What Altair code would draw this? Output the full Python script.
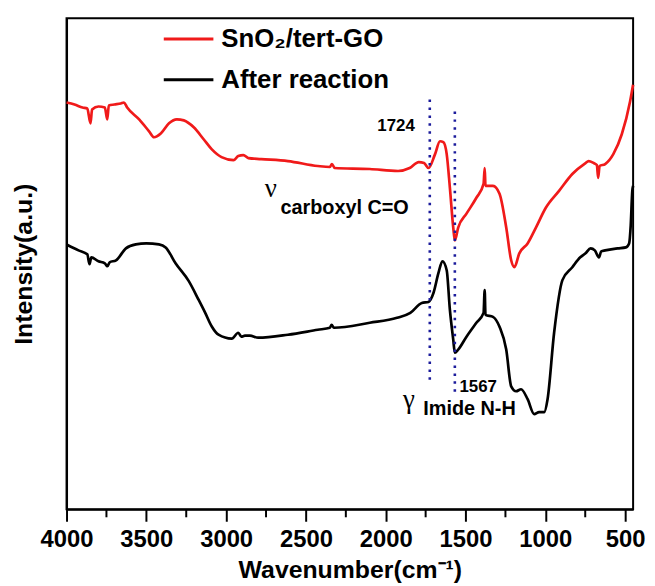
import altair as alt
import pandas as pd

series_names = ["SnO\u2082/tert-GO", "After reaction"]
series_colors = ["#f01a1a", "#000000"]

red_wn = [4000, 3950, 3900, 3870, 3850, 3840, 3800, 3760, 3745, 3735, 3700, 3660, 3640, 3620,
          3545, 3483, 3452, 3408, 3358, 3309, 3265, 3203, 3141, 3091, 3029, 2954, 2924, 2892,
          2861, 2780, 2613, 2426, 2350, 2337, 2320, 2100, 1923, 1850, 1793, 1760, 1732, 1691,
          1660, 1639, 1618, 1598, 1577, 1567, 1546, 1494, 1432, 1387, 1380, 1375, 1328, 1287,
          1245, 1214, 1194, 1163, 1111, 1059, 997, 914, 831, 748, 729, 697, 677, 669, 660, 625,
          574, 521, 469, 450]
red_int = [410, 408, 405, 404, 389, 403, 406, 405, 393, 407, 408, 409, 410, 405,
           393, 381, 375, 379, 389, 393, 392, 385, 373, 363, 355, 352, 356, 357,
           354, 353, 351, 346, 345, 348, 344, 343, 341, 344, 350, 349, 344, 358,
           371, 370, 358, 324, 284, 271, 284, 298, 314, 328, 344, 326, 326, 318,
           284, 251, 244, 258, 268, 284, 304, 321, 338, 349, 351, 349, 347, 334, 346, 348,
           358, 378, 411, 428]

black_wn = [4000, 3925, 3870, 3856, 3845, 3800, 3760, 3744, 3730, 3690, 3628, 3566, 3500, 3421,
            3379, 3317, 3234, 3172, 3131, 3089, 3048, 2965, 2924, 2905, 2882, 2851, 2799, 2613,
            2426, 2350, 2339, 2325, 2100, 1929, 1846, 1774, 1732, 1701, 1670, 1645, 1618, 1598,
            1577, 1567, 1546, 1494, 1432, 1387, 1380, 1375, 1328, 1287, 1245, 1214, 1183, 1152,
            1111, 1070, 1039, 1007, 986, 945, 893, 831, 781, 748, 716, 690, 664, 650, 625, 547,
            495, 475, 465, 455, 450]
black_int = [267, 261, 257, 247, 254, 250, 248, 245, 249, 251, 263, 267, 268, 267,
             264, 248, 230, 211, 198, 184, 176, 172, 178, 174, 175, 175, 173, 176,
             181, 183, 186, 183, 188, 193, 198, 208, 209, 218, 238, 250, 241, 201,
             171, 158, 161, 174, 188, 198, 221, 196, 194, 184, 161, 124, 119, 121,
             111, 96, 98, 98, 111, 178, 231, 244, 254, 258, 263, 261, 254, 260, 261, 263,
             264, 268, 286, 321, 326]

x_ticks = [4000, 3500, 3000, 2500, 2000, 1500, 1000, 500]
minor_ticks = [3750, 3250, 2750, 2250, 1750, 1250, 750]

marker_wn = [1724, 1567]
marker_top = [413, 401]
marker_bottom = [128, 118]

FONT = "Liberation Sans"

df = pd.concat([
    pd.DataFrame({"w": red_wn, "v": red_int, "s": series_names[0]}),
    pd.DataFrame({"w": black_wn, "v": black_int, "s": series_names[1]}),
])

xscale = alt.Scale(domain=[450, 4000], reverse=True, nice=False, zero=False)
yscale = alt.Scale(domain=[0, 495], nice=False, zero=False)

lines = alt.Chart(df).mark_line(strokeWidth=2.7, interpolate="monotone").encode(
    x=alt.X("w:Q", scale=xscale,
            axis=alt.Axis(values=x_ticks, format="d", grid=False, tickSize=12, tickWidth=2,
                          tickColor="black", domainColor="black", domainWidth=2,
                          labelFont=FONT, labelFontSize=24, labelFontWeight="bold",
                          labelColor="black", labelPadding=6, labelFlush=False,
                          title="Wavenumber(cm\u207b\u00b9)", titleFont=FONT, titleFontSize=25,
                          titleFontWeight="bold", titleColor="black", titlePadding=7)),
    y=alt.Y("v:Q", scale=yscale,
            axis=alt.Axis(labels=False, ticks=False, grid=False, domainColor="black",
                          domainWidth=2, title="Intensity(a.u.)", titleFont=FONT,
                          titleFontSize=25, titleFontWeight="bold", titleColor="black",
                          titlePadding=30)),
    color=alt.Color("s:N", scale=alt.Scale(domain=series_names, range=series_colors), legend=None),
    detail="s:N",
)

minor = alt.Chart(pd.DataFrame({"w": minor_ticks})).mark_rule(color="black", strokeWidth=2).encode(
    x="w:Q", y=alt.value(495), y2=alt.value(503)
)

markers = alt.Chart(pd.DataFrame({"w": marker_wn, "top": marker_top, "bot": marker_bottom})).mark_rule(
    color="#1c1c9c", strokeWidth=2.6, strokeDash=[2.5, 5.5]
).encode(x="w:Q", y="top:Q", y2="bot:Q")

def txt(t, w, v, size, align="left", weight="bold", font=FONT, baseline="middle"):
    return alt.Chart().mark_text(text=t, align=align, baseline=baseline, fontSize=size,
                                 fontWeight=weight, font=font, color="black").encode(
        x=alt.datum(w), y=alt.datum(v))

ann = [
    txt("1724", 1818, 386, 17, align="right"),
    txt("\u03bd", 2720, 323, 27, align="center", weight="normal", font="Liberation Serif"),
    txt("carboxyl C=O", 2660, 304, 20),
    txt("1567", 1538, 123, 17),
    txt("\u03b3", 1855, 110, 27, align="center", weight="normal", font="Liberation Serif"),
    txt("Imide N-H", 1765, 101, 20),
]

leg = []
for i, (name, col) in enumerate(zip(series_names, series_colors)):
    yy = 21 + i * 41
    leg.append(alt.Chart().mark_rule(color=col, strokeWidth=3).encode(
        x=alt.value(98), x2=alt.value(148), y=alt.value(yy)))
    leg.append(alt.Chart().mark_text(text=name, align="left", baseline="middle", fontSize=26,
                                     fontWeight="bold", font=FONT, color="black").encode(
        x=alt.value(156), y=alt.value(yy)))

chart = alt.layer(lines, minor, markers, *ann, *leg).properties(
    width=571, height=495,
    padding={"left": 59, "top": 8, "right": 14, "bottom": 75},
    autosize=alt.AutoSizeParams(type="none"),
).configure_view(stroke="black", strokeWidth=2)

chart.save("out.html", embed_options={"renderer": "svg", "actions": False})
